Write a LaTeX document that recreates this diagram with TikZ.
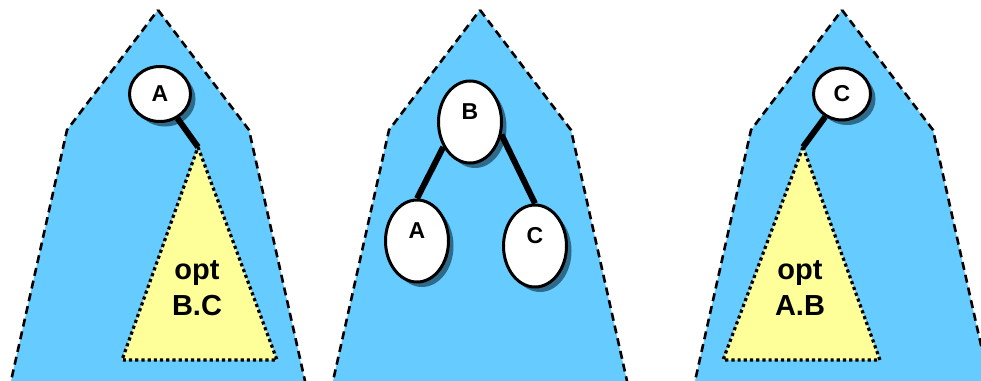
\documentclass[tikz,border=0pt]{standalone}
\usepackage{fontspec}
\setmainfont{Liberation Sans}
\usetikzlibrary{shapes.geometric,shadows}
\definecolor{treeblue}{HTML}{66CCFF}
\definecolor{optyellow}{HTML}{FFFF99}
\definecolor{shadowblue}{HTML}{2E6A8A}

\begin{document}
\begin{tikzpicture}[x=1pt, y=-1pt,
    subtree/.style={fill=treeblue, draw, line width=2.6pt, dash pattern=on 8pt off 5pt},
    opttree/.style={fill=optyellow, draw, line width=3.2pt, dash pattern=on 3.2pt off 3pt},
    optlabel/.style={align=center, font=\bfseries\fontsize{29}{36}\selectfont},
    key/.style={ellipse, draw, line width=3pt, fill=white, inner sep=0pt,
      font=\bfseries\fontsize{23}{27}\selectfont,
      drop shadow={shadow xshift=5pt, shadow yshift=-5pt, fill=shadowblue, opacity=1}},
    tall/.style={minimum width=63pt, minimum height=82pt, text depth=21pt},
    link/.style={line width=6pt}]
  \clip (0,0) rectangle (981,380);

  % the three whole trees
  \foreach \x in {158,480,842}
    \draw[subtree] (\x,10) -- (\x+91,130) -- (\x+149,390) -- (\x-149,390) -- (\x-91,130) -- cycle;

  % A at the root, optimal subtree on B.C
  \coordinate (BCtop) at (198,147);
  \draw[opttree] (BCtop) -- (277,360) -- (122,360) -- cycle;
  \node[optlabel] (BC) at (197,288) {opt\\B.C};
  \node[key, minimum width=61pt, minimum height=55pt] (A) at (160,94) {A};
  \draw[link] (A) -- (BCtop);

  % B at the root
  \node[key, tall] (B) at (470,122) {B};
  \node[key, tall] (A2) at (417,241) {A};
  \node[key, tall] (C2) at (535,246) {C};
  \draw[link] (B.-137) -- (A2.north);
  \draw[link] (B.-22) -- (C2.north);

  % C at the root, optimal subtree on A.B
  \coordinate (ABtop) at (803,147);
  \draw[opttree] (ABtop) -- (880,360) -- (723,360) -- cycle;
  \node[optlabel] (AB) at (800,288) {opt\\A.B};
  \node[key, minimum width=57pt, minimum height=52pt] (C) at (842,94) {C};
  \draw[link] (C) -- (ABtop);
\end{tikzpicture}
\end{document}
